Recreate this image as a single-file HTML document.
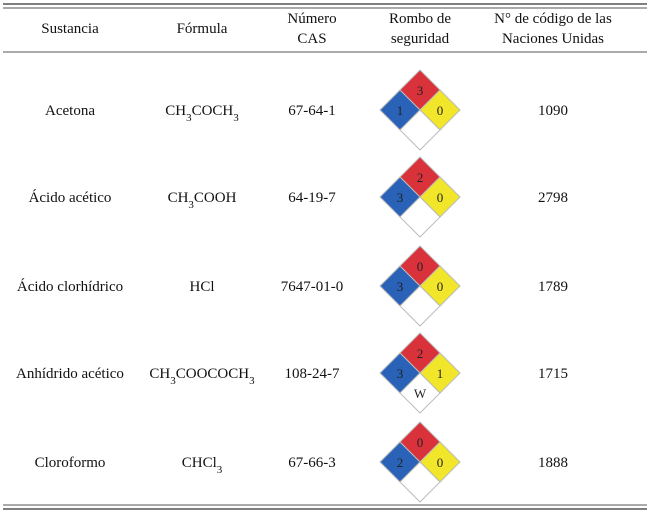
<!DOCTYPE html>
<html><head><meta charset="utf-8"><style>
html,body{margin:0;padding:0;background:#fff;}
svg{display:block;font-family:"Liberation Serif",serif;font-size:15px;fill:#111;}
</style></head><body>
<svg width="650" height="520" viewBox="0 0 650 520">
<line x1="3" y1="4" x2="647" y2="4" stroke="#555" stroke-width="1.5"/>
<line x1="3" y1="8" x2="647" y2="8" stroke="#555" stroke-width="1"/>
<line x1="3" y1="52" x2="647" y2="52" stroke="#555" stroke-width="1"/>
<line x1="3" y1="505" x2="647" y2="505" stroke="#555" stroke-width="1"/>
<line x1="3" y1="509" x2="647" y2="509" stroke="#555" stroke-width="1.5"/>
<g text-anchor="middle">
<text x="70" y="33">Sustancia</text>
<text x="202" y="33">Fórmula</text>
<text x="312" y="23">Número</text>
<text x="312" y="43">CAS</text>
<text x="420" y="23">Rombo de</text>
<text x="420" y="43">seguridad</text>
<text x="553" y="23">N° de código de las</text>
<text x="553" y="43">Naciones Unidas</text>
</g>
<g id="rows" text-anchor="middle"></g>
</svg>
<script>
const names=["Acetona","Ácido acético","Ácido clorhídrico","Anhídrido acético","Cloroformo"];
const formulas=['CH<tspan baseline-shift="sub" font-size="11">3</tspan>COCH<tspan baseline-shift="sub" font-size="11">3</tspan>','CH<tspan baseline-shift="sub" font-size="11">3</tspan>COOH','HCl','CH<tspan baseline-shift="sub" font-size="11">3</tspan>COOCOCH<tspan baseline-shift="sub" font-size="11">3</tspan>','CHCl<tspan baseline-shift="sub" font-size="11">3</tspan>'];
const cas=["67-64-1","64-19-7","7647-01-0","108-24-7","67-66-3"];
const health=[1,3,3,3,2];
const fire=[3,2,0,2,0];
const react=[0,0,0,1,0];
const special=["","","","W",""];
const un=["1090","2798","1789","1715","1888"];
const rowY=[110,197,286,373,462];
const g=document.getElementById('rows');
let h='';
for(let i=0;i<names.length;i++){
 const y=rowY[i],cx=420,d=20;
 h+=`<text x="70" y="${y+5}">${names[i]}</text>`;
 h+=`<text x="202" y="${y+5}">${formulas[i]}</text>`;
 h+=`<text x="312" y="${y+5}">${cas[i]}</text>`;
 h+=`<text x="553" y="${y+5}">${un[i]}</text>`;
 const dia=(x,yy,c,nm)=>`<polygon points="${x},${yy-d} ${x+d},${yy} ${x},${yy+d} ${x-d},${yy}" fill="${c}" stroke="#bbb" stroke-width="1"/>`;
 h+=`<g>`;
 h+=dia(cx,y-d,"#d9323a","fire-"+i)+dia(cx-d,y,"#2a62b8","health-"+i)+dia(cx+d,y,"#f2e62a","reactivity-"+i)+dia(cx,y+d,"#fff","special-"+i);
 h+=`<text x="${cx}" y="${y-d+5}" font-size="13" fill="#222">${fire[i]}</text>`;
 h+=`<text x="${cx-d}" y="${y+5}" font-size="13" fill="#222">${health[i]}</text>`;
 h+=`<text x="${cx+d}" y="${y+5}" font-size="13" fill="#222">${react[i]}</text>`;
 h+=`<text x="${cx}" y="${y+d+5}" font-size="13" fill="#222">${special[i]}</text>`;
 h+=`</g>`;
}
g.innerHTML=h;
</script>
</body></html>
